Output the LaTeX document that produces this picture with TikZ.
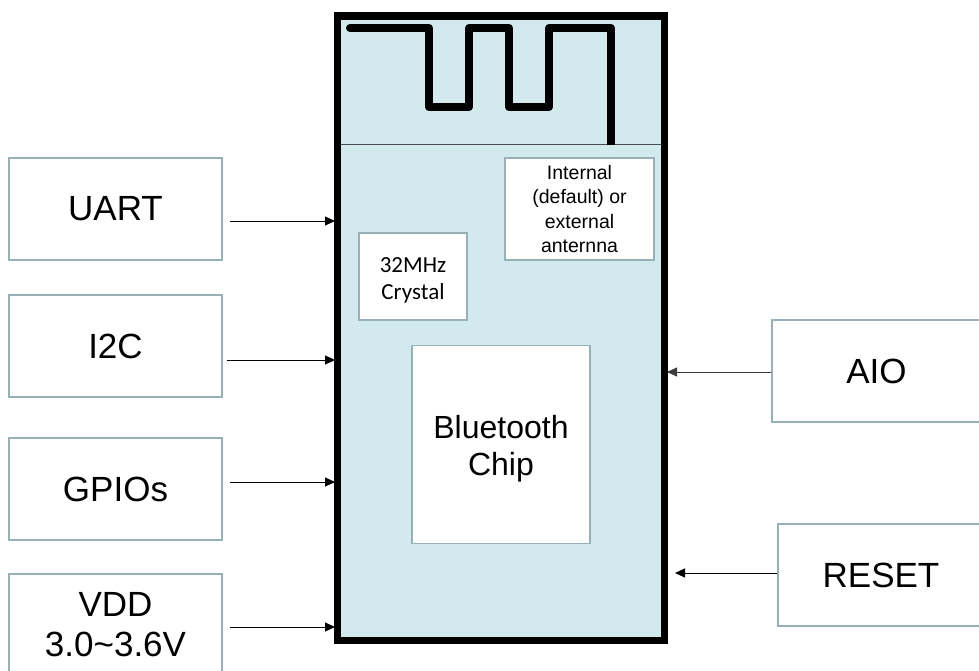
\documentclass[tikz,border=0pt]{standalone}
\usepackage{fontspec}
\setmainfont{Liberation Sans}
\newfontfamily\calfont{Carlito}
\usetikzlibrary{arrows.meta}
\definecolor{boxgray}{RGB}{150,178,182}
\definecolor{modfill}{RGB}{210,234,237}
\definecolor{sepgray}{RGB}{70,80,82}
\definecolor{arrgray}{RGB}{60,60,60}
\begin{document}
\begin{tikzpicture}[x=1pt,y=-1pt,
  sidebox/.style={draw=boxgray,line width=1.3pt,fill=white,inner sep=0pt,
    minimum width=213pt,minimum height=102pt,align=center,
    font=\fontsize{35}{40}\selectfont},
  innerbox/.style={draw=boxgray,line width=1.3pt,fill=white,inner sep=0pt,align=center},
  sig/.style={line width=1pt,-{Triangle[length=10pt,width=9pt]}}
]
\useasboundingbox (0,0) rectangle (979,671);
% module
\node[draw=black,line width=7.5pt,fill=modfill,inner sep=0pt,
  minimum width=327pt,minimum height=624.5pt] (module) at (501,328.25) {};
\coordinate (sepL) at (341.25,145);
\coordinate (sepR) at (660.75,145);
\draw[sepgray,line width=1pt] (sepL) -- (sepR);
% antenna
\draw[line width=8pt,line join=round,line cap=round]
  (350,28) -- (429,28) -- (429,107) -- (469,107) -- (469,28) -- (509,28)
  -- (509,107) -- (549,107) -- (549,28) -- (611,28) -- (611,141);
\draw[line width=8pt] (611,130) -- (611,145);
% inner boxes
\node[innerbox,minimum width=149pt,minimum height=102pt,
  font=\fontsize{19.5}{24.5}\selectfont] (ant) at (579.5,209)
  {Internal\\(default) or\\external\\anternna};
\node[innerbox,minimum width=108pt,minimum height=87pt,
  label={[font=\calfont\fontsize{23}{27}\selectfont,align=center,yshift=-4pt]center:{32MHz\\Crystal}}]
  (xtal) at (413,276.5) {};
\node[innerbox,minimum width=178pt,minimum height=198pt,
  label={[font=\fontsize{32}{37}\selectfont,align=center,yshift=-4pt]center:{Bluetooth\\Chip}}]
  (chip) at (501,444.5) {};
% side boxes
\node[sidebox] (uart) at (115.5,209) {UART};
\node[sidebox] (i2c) at (115.5,346) {I2C};
\node[sidebox] (gpio) at (115.5,489) {GPIOs};
\node[sidebox] (vdd) at (115.5,625) {VDD\\3.0\textasciitilde3.6V};
\node[sidebox,minimum width=209pt] (aio) at (876.5,371) {AIO};
\node[sidebox,minimum width=206pt] (reset) at (881,575) {RESET};
% connector end points on module
\coordinate (inU) at (335,221);
\coordinate (inI) at (335,360);
\coordinate (inG) at (335,482);
\coordinate (inV) at (335,627);
\coordinate (inA) at (667,372);
\coordinate (inR) at (675,573);
\draw[sig,shorten <=7pt] (uart.east |- inU) -- (inU);
\draw[sig,shorten <=4pt] (i2c.east |- inI) -- (inI);
\draw[sig,shorten <=7pt] (gpio.east |- inG) -- (inG);
\draw[sig,shorten <=7pt] (vdd.east |- inV) -- (inV);
\draw[sig,arrgray] (aio.west |- inA) -- (inA);
\draw[sig] (reset.west |- inR) -- (inR);
\end{tikzpicture}
\end{document}
